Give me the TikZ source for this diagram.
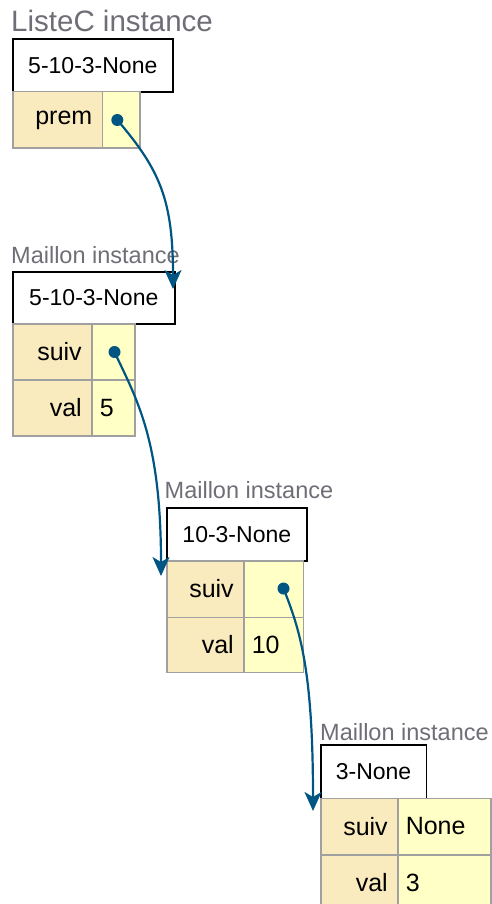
\documentclass[tikz,border=0pt]{standalone}
\usepackage{fontspec}
\setmainfont{Liberation Sans}
\usetikzlibrary{arrows.meta}
\definecolor{keyfill}{HTML}{FAEBBF}
\definecolor{valfill}{HTML}{FFFFC6}
\definecolor{cellgray}{HTML}{A0A0A0}
\definecolor{ptrblue}{HTML}{005583}
\definecolor{labgray}{HTML}{6E6E76}
\newcommand{\titlefont}{\fontsize{29.5}{34}\selectfont}
\newcommand{\labfont}{\fontsize{23.5}{28}\selectfont}
\newcommand{\reprfont}{\fontsize{23}{27}\selectfont}
\newcommand{\cellfont}{\fontsize{25}{29}\selectfont}
\begin{document}
\begin{tikzpicture}[x=1pt,y=-1pt,
  typelabel/.style={anchor=base west, inner sep=0, text=labgray},
  reprbox/.style={draw=black, line width=1.6pt, fill=white, anchor=north west, inner sep=0, font=\reprfont},
  keycell/.style={draw=cellgray, line width=1.5pt, fill=keyfill, anchor=north west, inner xsep=10pt, inner ysep=0, align=right, font=\cellfont},
  valcell/.style={draw=cellgray, line width=1.5pt, fill=valfill, anchor=north west, inner xsep=8pt, inner ysep=0, align=left, font=\cellfont},
  ptrdot/.style={circle, fill=ptrblue, inner sep=0, minimum size=12pt},
  ptr/.style={draw=ptrblue, line width=2.2pt, -{Stealth[length=19pt,width=17pt,inset=5pt]}}
]
\useasboundingbox (0,0) rectangle (492,904);
% ListeC instance
\node[typelabel, font=\titlefont] (t0) at (11,31.5) {ListeC instance};
\node[reprbox, minimum width=160pt, minimum height=53pt] (r0) at (12,38) {5-10-3-None};
\node[keycell, text width=69.5pt, minimum height=56.5pt] (k0) at (12,91) {prem};
\node[valcell, text width=21.5pt, minimum height=56.5pt] (v0) at (101.5,91) {};
\node[ptrdot] (d0) at (117.3,120) {};
% Maillon 1
\node[typelabel, font=\labfont] (t1) at (11,263) {Maillon instance};
\node[reprbox, minimum width=162pt, minimum height=52pt] (r1) at (12,271) {5-10-3-None};
\node[keycell, text width=59pt, minimum height=56pt] (k1a) at (12,323) {suiv};
\node[valcell, text width=27pt, minimum height=56pt] (v1a) at (91,323) {};
\node[keycell, text width=59pt, minimum height=56pt] (k1b) at (12,379) {val};
\node[valcell, text width=27pt, minimum height=56pt] (v1b) at (91,379) {5};
\node[ptrdot] (d1) at (114.5,352) {};
% Maillon 2
\node[typelabel, font=\labfont] (t2) at (164.5,498) {Maillon instance};
\node[reprbox, minimum width=140pt, minimum height=53pt] (r2) at (166,507) {10-3-None};
\node[keycell, text width=57pt, minimum height=56.5pt] (k2a) at (166,560) {suiv};
\node[valcell, text width=43.5pt, minimum height=56.5pt] (v2a) at (243,560) {};
\node[keycell, text width=57pt, minimum height=55pt] (k2b) at (166,616.5) {val};
\node[valcell, text width=43.5pt, minimum height=55pt] (v2b) at (243,616.5) {10};
\node[ptrdot] (d2) at (283.5,588.5) {};
% Maillon 3
\node[typelabel, font=\labfont] (t3) at (320,740) {Maillon instance};
\node[reprbox, minimum width=105.5pt, minimum height=53.5pt] (r3) at (320,744) {3-None};
\node[keycell, text width=57pt, minimum height=56.5pt] (k3a) at (320,797.5) {suiv};
\node[valcell, text width=77pt, minimum height=56.5pt] (v3a) at (397,797.5) {None};
\node[keycell, text width=57pt, minimum height=56.5pt] (k3b) at (320,854) {val};
\node[valcell, text width=77pt, minimum height=56.5pt] (v3b) at (397,854) {3};
% pointer targets
\coordinate (e1) at (173,289);
\coordinate (e2) at (161,576);
\coordinate (e3) at (313,811);
\draw[ptr] (d0.center) .. controls (160,170) and (173,200) .. (e1);
\draw[ptr] (d1.center) .. controls (137,400) and (161,440) .. (e2);
\draw[ptr] (d2.center) .. controls (300,630) and (313,670) .. (e3);
\end{tikzpicture}
\end{document}
